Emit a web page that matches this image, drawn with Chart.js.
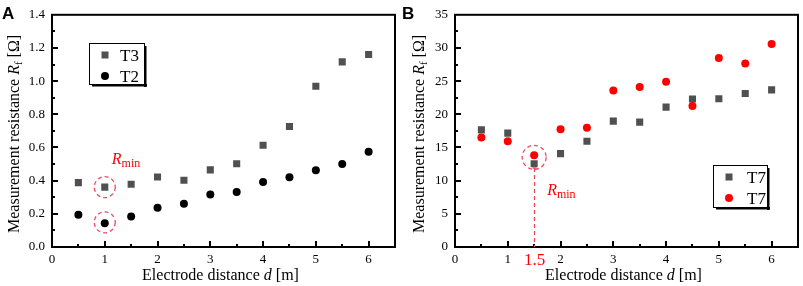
<!DOCTYPE html>
<html><head><meta charset="utf-8">
<script src="https://cdn.jsdelivr.net/npm/chart.js@4/dist/chart.umd.min.js"></script>
<style>
body{margin:0;background:#fff;width:803px;height:286px;overflow:hidden;position:relative}
canvas{position:absolute;top:0}
#ca{left:0}#cb{left:400px}
</style></head><body>
<canvas id="ca" width="400" height="286"></canvas>
<canvas id="cb" width="403" height="286"></canvas>
<script>
// ---- data ----
const distances = [0.5, 1, 1.5, 2, 2.5, 3, 3.5, 4, 4.5, 5, 5.5, 6];
const xTicks = [0, 1, 2, 3, 4, 5, 6];
const t3Values = [0.388, 0.361, 0.378, 0.422, 0.402, 0.465, 0.502, 0.614, 0.727, 0.969, 1.116, 1.161];
const t2Values = [0.194, 0.143, 0.184, 0.237, 0.261, 0.316, 0.331, 0.392, 0.420, 0.463, 0.500, 0.575];
const t7SquareValues = [17.65, 17.16, 12.55, 14.07, 15.93, 18.97, 18.82, 21.08, 22.30, 22.35, 23.14, 23.68];
const t7CircleValues = [16.52, 15.93, 13.82, 17.75, 17.99, 23.58, 24.12, 24.90, 21.27, 28.48, 27.65, 30.59];
const yTicksA = [0, 0.2, 0.4, 0.6, 0.8, 1.0, 1.2, 1.4];
const yTicksB = [0, 5, 10, 15, 20, 25, 30, 35];
const legendA = ['T3', 'T2'];
const legendB = ['T7', 'T7'];
const rminMarkA = 1;      // d of minimum in panel A
const rminMarkB = 1.5;    // d of minimum in panel B

const SERIF = '"Liberation Serif", "Times New Roman", serif';
const GRAY = '#505050';
const RED = '#ff0000';
const ANNO = '#f0485e';

function pts(xs, ys) { return xs.map((x, i) => ({x: x, y: ys[i]})); }

function drawRich(ctx, parts, x, y, align) {
  let total = 0;
  parts.forEach(p => { ctx.font = p.font; p.w = ctx.measureText(p.t).width; total += p.w; });
  let cx = align === 'center' ? x - total / 2 : x;
  parts.forEach(p => { ctx.font = p.font; ctx.fillText(p.t, cx, y + (p.dy || 0)); cx += p.w; });
}

function panelPlugin(cfg) {
  return {
    id: 'panel' + cfg.letter,
    beforeDatasetsDraw(chart) {
      const ctx = chart.ctx, a = chart.chartArea;
      const xs = chart.scales.x, ys = chart.scales.y;
      ctx.save();
      ctx.strokeStyle = '#000'; ctx.lineWidth = 2;
      ctx.strokeRect(a.left, a.top, a.right - a.left, a.bottom - a.top);
      // inward ticks
      ctx.lineWidth = 2; ctx.beginPath();
      for (let v = 0; v <= 6.5 + 1e-9; v += 0.5) {
        const px = Math.round(xs.getPixelForValue(v));
        const len = Math.abs(v - Math.round(v)) < 1e-6 ? 6 : 3;
        if (v > 0 && v < 6.5) { ctx.moveTo(px, a.bottom); ctx.lineTo(px, a.bottom - len); }
      }
      const yMax = cfg.yTicks[cfg.yTicks.length - 1], yStep = cfg.yTicks[1] - cfg.yTicks[0];
      for (let k = 1; k < (cfg.yTicks.length - 1) * 2; k++) {
        const v = k * yStep / 2;
        const py = Math.round(ys.getPixelForValue(v));
        const len = k % 2 === 0 ? 6 : 3;
        ctx.moveTo(a.left, py); ctx.lineTo(a.left + len, py);
      }
      ctx.stroke();
      ctx.restore();
    },
    afterDraw(chart) {
      const ctx = chart.ctx, a = chart.chartArea;
      const xs = chart.scales.x, ys = chart.scales.y;
      ctx.save();
      ctx.fillStyle = '#000';
      // panel letter
      ctx.font = 'bold 17px "Liberation Sans", Arial, sans-serif';
      ctx.textBaseline = 'alphabetic'; ctx.textAlign = 'left';
      ctx.fillText(cfg.letter, 2, 19);
      // y title
      ctx.save();
      ctx.translate(cfg.yTitleX, (a.top + a.bottom) / 2 + 3);
      ctx.rotate(-Math.PI / 2);
      ctx.textBaseline = 'middle';
      drawRich(ctx, [
        {t: 'Measurement resistance ', font: '16px ' + SERIF},
        {t: 'R', font: 'italic 16px ' + SERIF},
        {t: 'f', font: '11px ' + SERIF, dy: 4},
        {t: ' [\u03A9]', font: '16px ' + SERIF}
      ], 0, 0, 'center');
      ctx.restore();
      // x title
      ctx.textBaseline = 'alphabetic';
      drawRich(ctx, [
        {t: 'Electrode distance ', font: '16px ' + SERIF},
        {t: 'd', font: 'italic 16px ' + SERIF},
        {t: ' [m]', font: '16px ' + SERIF}
      ], (a.left + a.right) / 2 - 3, 280, 'center');
      // legend
      const L = cfg.legend;
      ctx.lineWidth = 1; ctx.strokeStyle = '#000';
      ctx.strokeRect(L.x + 0.5, L.y + 0.5, L.w, L.h);
      ctx.fillRect(L.x + L.w, L.y + 3, 2.5, L.h);
      ctx.fillRect(L.x + 3, L.y + L.h, L.w, 2.5);
      ctx.fillStyle = cfg.c1; ctx.fillRect(L.x + 12.5, L.y + 8.5, 7, 7);
      ctx.fillStyle = cfg.c2; ctx.beginPath(); ctx.arc(L.x + 16, L.y + 33, 4, 0, Math.PI * 2); ctx.fill();
      ctx.fillStyle = '#000'; ctx.font = '17px ' + SERIF; ctx.textBaseline = 'alphabetic';
      ctx.fillText(cfg.names[0], L.x + L.tx, L.y + 18);
      ctx.fillText(cfg.names[1], L.x + L.tx, L.y + 39);
      // annotations
      ctx.strokeStyle = ANNO; ctx.lineWidth = 1.3; ctx.setLineDash([4, 3]);
      cfg.circles.forEach(c => {
        ctx.beginPath();
        ctx.arc(xs.getPixelForValue(c.x), ys.getPixelForValue(c.y) + (c.dy || 0), c.r, 0, Math.PI * 2);
        ctx.stroke();
      });
      if (cfg.vline) {
        const px = Math.round(xs.getPixelForValue(cfg.vline.x)) + 0.5;
        ctx.beginPath(); ctx.moveTo(px, cfg.vline.top); ctx.lineTo(px, a.bottom); ctx.stroke();
        ctx.setLineDash([]);
        ctx.beginPath(); ctx.moveTo(px - 2, cfg.vline.top); ctx.lineTo(px + 2, cfg.vline.top); ctx.stroke();
        ctx.fillStyle = RED; ctx.font = '17px ' + SERIF; ctx.textAlign = 'center';
        ctx.fillText(String(cfg.vline.x), px, 265);
        ctx.textAlign = 'left';
      }
      ctx.setLineDash([]);
      ctx.fillStyle = RED;
      const rx = xs.getPixelForValue(cfg.rmin.x) + cfg.rmin.dx;
      drawRich(ctx, [
        {t: 'R', font: 'italic 16px ' + SERIF},
        {t: 'min', font: '12px ' + SERIF, dy: 3}
      ], rx, cfg.rmin.y, 'left');
      ctx.restore();
    }
  };
}

function makeChart(id, datasets, cfg) {
  const yMax = cfg.yTicks[cfg.yTicks.length - 1];
  return new Chart(document.getElementById(id), {
    type: 'scatter',
    data: {datasets: datasets},
    options: {
      responsive: false, animation: false, devicePixelRatio: 1,
      layout: {padding: {left: 0, right: cfg.padRight, top: 10, bottom: 0}},
      plugins: {legend: {display: false}, tooltip: {enabled: false}},
      elements: {point: {borderWidth: 0}},
      scales: {
        x: {
          type: 'linear', min: 0, max: 6.5,
          afterBuildTicks: s => { s.ticks = xTicks.map(v => ({value: v})); },
          afterFit: s => { s.height = 39; },
          grid: {display: false, drawTicks: false}, border: {display: false},
          ticks: {font: {family: SERIF, size: 13}, color: '#000', padding: 5, maxRotation: 0,
                  callback: v => String(v)}
        },
        y: {
          type: 'linear', min: 0, max: yMax,
          afterBuildTicks: s => { s.ticks = cfg.yTicks.map(v => ({value: v})); },
          afterFit: s => { s.width = cfg.yWidth; },
          grid: {display: false, drawTicks: false}, border: {display: false},
          ticks: {font: {family: SERIF, size: 13}, color: '#000', padding: 7,
                  callback: v => cfg.fmt(v)}
        }
      }
    },
    plugins: [panelPlugin(cfg)]
  });
}

makeChart('ca', [
  {data: pts(distances, t3Values), pointStyle: 'rect', pointRadius: 5, backgroundColor: GRAY},
  {data: pts(distances, t2Values), pointStyle: 'circle', pointRadius: 4, backgroundColor: '#000'}
], {
  letter: 'A', yTicks: yTicksA, fmt: v => v.toFixed(1), yWidth: 52, padRight: 5, yTitleX: 15,
  names: legendA, c1: GRAY, c2: '#000',
  legend: {x: 89, y: 43, w: 55, h: 41, tx: 31},
  circles: [{x: rminMarkA, y: t3Values[1], r: 10.5}, {x: rminMarkA, y: t2Values[1], r: 10.5, dy: -1}],
  rmin: {x: rminMarkA, dx: 7, y: 164}
});

makeChart('cb', [
  {data: pts(distances, t7CircleValues), pointStyle: 'circle', pointRadius: 4, backgroundColor: RED},
  {data: pts(distances, t7SquareValues), pointStyle: 'rect', pointRadius: 5, backgroundColor: GRAY}
], {
  letter: 'B', yTicks: yTicksB, fmt: v => String(v), yWidth: 55, padRight: 4, yTitleX: 20,
  names: legendB, c1: GRAY, c2: RED,
  legend: {x: 313, y: 165, w: 54, h: 42, tx: 34},
  circles: [{x: rminMarkB, y: t7CircleValues[2], r: 12, dy: 2}],
  vline: {x: rminMarkB, top: 168},
  rmin: {x: rminMarkB, dx: 13, y: 195}
});
</script>
</body></html>
